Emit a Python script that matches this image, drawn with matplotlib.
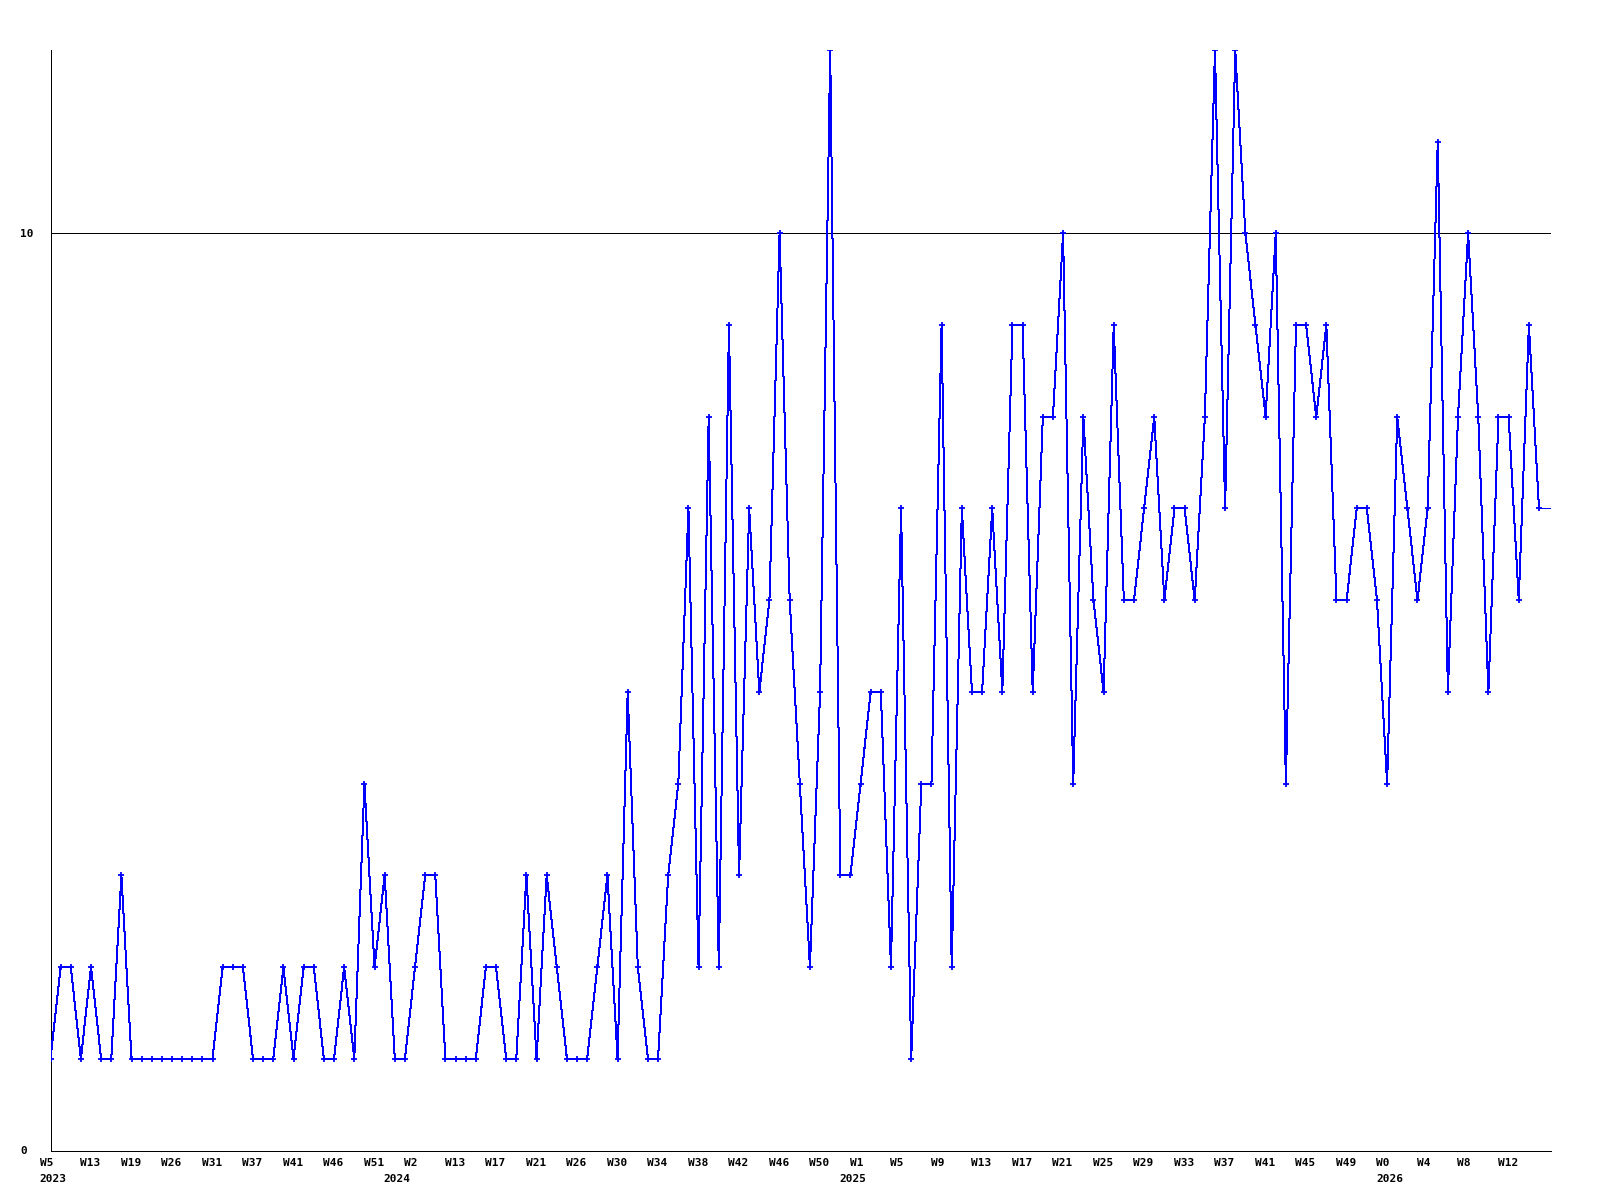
import matplotlib
matplotlib.use("Agg")
import matplotlib.pyplot as plt
import matplotlib.transforms as mtransforms
import numpy as np

# ---- data ----
values = [
    1, 2, 2, 1, 2, 1, 1, 3, 1, 1, 1, 1, 1, 1, 1, 1, 1, 2, 2, 2,
    1, 1, 1, 2, 1, 2, 2, 1, 1, 2, 1, 4, 2, 3, 1, 1, 2, 3, 3, 1,
    1, 1, 1, 2, 2, 1, 1, 3, 1, 3, 2, 1, 1, 1, 2, 3, 1, 5, 2, 1,
    1, 3, 4, 7, 2, 8, 2, 9, 3, 7, 5, 6, 10, 6, 4, 2, 5, 12, 3, 3,
    4, 5, 5, 2, 7, 1, 4, 4, 9, 2, 7, 5, 5, 7, 5, 9, 9, 5, 8, 8,
    10, 4, 8, 6, 5, 9, 6, 6, 7, 8, 6, 7, 7, 6, 8, 12, 7, 12, 10, 9,
    8, 10, 4, 9, 9, 8, 9, 6, 6, 7, 7, 6, 4, 8, 7, 6, 7, 11, 5, 8,
    10, 8, 5, 8, 8, 6, 9, 7,
]
week_labels = [
    "W5", "W13", "W19", "W26", "W31", "W37", "W41", "W46", "W51", "W2",
    "W13", "W17", "W21", "W26", "W30", "W34", "W38", "W42", "W46", "W50",
    "W1", "W5", "W9", "W13", "W17", "W21", "W25", "W29", "W33", "W37",
    "W41", "W45", "W49", "W0", "W4", "W8", "W12",
]
week_label_step = 4
year_labels = ["2023", "2024", "2025", "2026"]
year_positions = [0, 34, 79, 132]
ref_value = 10
y_ticks = [0, 10]
y_max = 12

FONT = dict(family="DejaVu Sans Mono", weight="bold", size=8)
LW = 0.72  # 1 px at 100 dpi

fig = plt.figure(figsize=(16, 12), dpi=100)
W, H = 1600.0, 1200.0
left_px, right_px, top_px, bottom_px = 50.5, 1551.0, 49.9, 1150.5
ax = fig.add_axes([left_px / W, 1 - bottom_px / H,
                   (right_px - left_px) / W, (bottom_px - top_px) / H])

n = len(values)
x = np.arange(n)
spacing_px = (1539.0 - left_px) / (n - 1)
x_right = (right_px - left_px) / spacing_px

ax.set_xlim(0, x_right)
ax.set_ylim(0, y_max)

# reference line
ax.axhline(ref_value, color="black", lw=LW, zorder=1, antialiased=False)

# data line + trailing segment to the right edge
ax.plot(x, values, color="#0000ff", lw=LW, marker="+", ms=4.5, mew=1.3,
        zorder=3, antialiased=False)
ax.plot([x[-1], x_right], [values[-1], values[-1]], color="#0000ff", lw=LW,
        zorder=3, antialiased=False)

for s in ("top", "right"):
    ax.spines[s].set_visible(False)
for s in ("left", "bottom"):
    ax.spines[s].set_linewidth(LW)
    ax.spines[s].set_color("black")
    ax.spines[s].set_antialiased(False)

# y tick labels, left-aligned at x=20px
ax.set_yticks(y_ticks)
ax.set_yticklabels([str(v) for v in y_ticks], **FONT)
ax.tick_params(axis="y", length=0, pad=(left_px - 20.0) * 72 / 100)
for lab in ax.get_yticklabels():
    lab.set_horizontalalignment("left")

# x labels as text: left-aligned at point - 11px
ax.set_xticks([])
label_tr = ax.get_xaxis_transform()
for k, lab in enumerate(week_labels):
    xi = x[k * week_label_step]
    tr = label_tr + mtransforms.ScaledTranslation(-11 / 100, -16 / 100, fig.dpi_scale_trans)
    ax.text(xi, 0, lab, transform=tr, ha="left", va="baseline", **FONT)
for pos, lab in zip(year_positions, year_labels):
    xi = x[pos]
    tr = label_tr + mtransforms.ScaledTranslation(-11 / 100, -31 / 100, fig.dpi_scale_trans)
    ax.text(xi, 0, lab, transform=tr, ha="left", va="baseline", **FONT)

fig.savefig("out.png", dpi=100, facecolor="white")
